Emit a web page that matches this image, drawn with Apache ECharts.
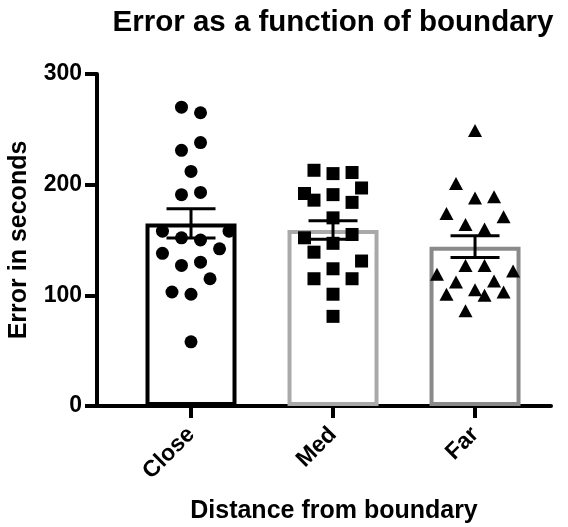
<!DOCTYPE html>
<html>
<head>
<meta charset="utf-8">
<script src="https://cdn.jsdelivr.net/npm/echarts@6/dist/echarts.min.js"></script>
<style>
html,body{margin:0;padding:0;background:#fff;}
#chart{width:568px;height:527px;}
</style>
</head>
<body>
<div id="chart"></div>
<script>
// ---- data ----
var categories = ['Close', 'Med', 'Far'];
var yTicks = [0, 100, 200, 300];
var means = [165, 159, 144];
var sems = [13.3, 8.4, 9.9];

var closeValues = [270, 265, 238, 231, 212, 191, 193, 158, 158, 152, 150, 142, 138, 127, 130, 115, 103, 101, 58];
var closeJitter = [-1, 1, 1, -1, 0, -1, 1, -3, 4, -1, 1, 3, -3, -1, 1, 2, -2, 0, 0];
var medValues = [213, 210, 211, 197, 192, 186, 191, 184, 170, 155, 152, 147, 139, 131, 124, 115, 115, 101, 81];
var medJitter = [-2, 0, 2, 3, -3, -2, 0, 2, 0, 2, -3, 0, -2, 3, 0, -2, 2, 0, 0];
var farValues = [249, 201, 188, 189, 174, 171, 164, 160, 127, 127, 119, 122, 112, 113, 101, 105, 100, 103, 86];
var farJitter = [0, -2, 0, 2, -3, 3, -1, 1, -1, 1, -4, 4, -2, 2, -3, 0, 1, 3, -1];

// ---- styling ----
var FONT = '"Liberation Sans", Arial, Helvetica, sans-serif';
var barColors = ['#000000', '#a9a9a9', '#8a8a8a'];
var JSTEP = 0.067; // horizontal spread step, in category units

function pts(idx, vals, jit) {
  return vals.map(function (v, i) { return [idx + jit[i] * JSTEP, v]; });
}

var chart = echarts.init(document.getElementById('chart'), null, {renderer: 'canvas'});

var option = {
  animation: false,
  backgroundColor: '#ffffff',
  title: [
    {
      text: 'Error as a function of boundary',
      left: 333, top: 8, textAlign: 'center', padding: 0,
      textStyle: {fontFamily: FONT, fontWeight: 'bold', fontSize: 29.5, color: '#000'}
    },
    {
      text: 'Distance from boundary',
      left: 334, top: 499, textAlign: 'center', padding: 0,
      textStyle: {fontFamily: FONT, fontWeight: 'bold', fontSize: 25, color: '#000'}
    }
  ],
  grid: {left: 97, right: 17, top: 74, bottom: 121, containLabel: false, outerBoundsMode: 'none'},
  xAxis: {
    type: 'value',
    min: -0.662, max: 2.535,
    splitLine: {show: false},
    axisLine: {show: true, onZero: false, lineStyle: {color: '#000', width: 4}},
    axisTick: {show: true, length: 12, customValues: [0, 1, 2], lineStyle: {color: '#000', width: 4}},
    axisLabel: {
      customValues: [0, 1, 2],
      rotate: 45, margin: 25,
      fontFamily: FONT, fontWeight: 'bold', fontSize: 23, color: '#000',
      formatter: function (v) { return categories[Math.round(v)]; }
    }
  },
  yAxis: {
    type: 'value',
    min: 0, max: 300, interval: 100,
    name: 'Error in seconds',
    nameLocation: 'middle', nameRotate: 90, nameGap: 65, nameMoveOverlap: false,
    nameTextStyle: {fontFamily: FONT, fontWeight: 'bold', fontSize: 25, color: '#000'},
    splitLine: {show: false},
    axisLine: {show: true, onZero: false, lineStyle: {color: '#000', width: 4}},
    axisTick: {show: true, length: 12, lineStyle: {color: '#000', width: 4}},
    axisLabel: {
      margin: 15, fontFamily: FONT, fontWeight: 'bold', fontSize: 23, color: '#000',
      formatter: function (v) { return yTicks.indexOf(v) >= 0 ? String(v) : ''; }
    }
  },
  series: [
    {
      type: 'bar',
      barWidth: 91,
      z: 1,
      data: means.map(function (m, i) {
        return {value: [i, m], itemStyle: {color: '#ffffff', borderColor: barColors[i], borderWidth: 4}};
      })
    },
    {
      type: 'custom',
      z: 3,
      data: means.map(function (m, i) { return [i, m - sems[i], m + sems[i]]; }),
      renderItem: function (params, api) {
        var x = api.value(0);
        var lo = api.coord([x, api.value(1)]);
        var hi = api.coord([x, api.value(2)]);
        var hw = 24.5;
        var st = {stroke: '#000', lineWidth: 3};
        return {
          type: 'group',
          children: [
            {type: 'line', shape: {x1: lo[0], y1: lo[1], x2: hi[0], y2: hi[1]}, style: st},
            {type: 'line', shape: {x1: hi[0] - hw, y1: hi[1], x2: hi[0] + hw, y2: hi[1]}, style: st},
            {type: 'line', shape: {x1: lo[0] - hw, y1: lo[1], x2: lo[0] + hw, y2: lo[1]}, style: st}
          ]
        };
      }
    },
    {
      type: 'scatter', z: 4, symbol: 'circle', symbolSize: 13,
      itemStyle: {color: '#000', opacity: 1},
      data: pts(0, closeValues, closeJitter)
    },
    {
      type: 'scatter', z: 4, symbol: 'rect', symbolSize: 13,
      itemStyle: {color: '#000', opacity: 1},
      data: pts(1, medValues, medJitter)
    },
    {
      type: 'scatter', z: 4, symbol: 'triangle', symbolSize: [14, 13],
      itemStyle: {color: '#000', opacity: 1},
      data: pts(2, farValues, farJitter)
    }
  ]
};
chart.setOption(option);
</script>
</body>
</html>
